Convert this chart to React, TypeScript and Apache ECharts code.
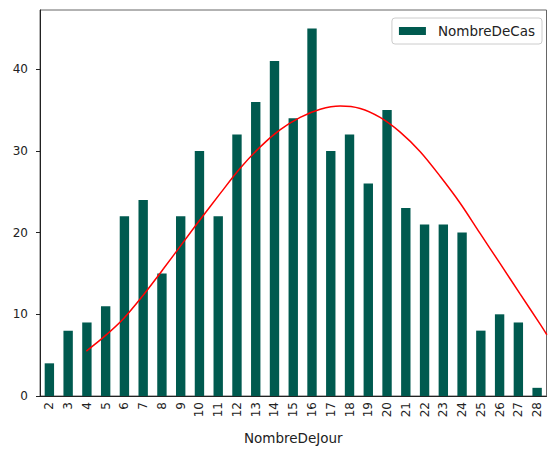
import React, { useEffect, useRef } from "react";
import * as echarts from "echarts";

const days = ["2","3","4","5","6","7","8","9","10","11","12","13","14","15","16","17","18","19","20","21","22","23","24","25","26","27","28"];
const cases = [4, 8, 9, 11, 22, 24, 15, 22, 30, 22, 32, 36, 41, 34, 45, 30, 32, 26, 35, 23, 21, 21, 20, 8, 10, 9, 1];

// fitted curve (x in category-index units)
const fitX = [1.97, 2.89, 3.96, 5.02, 6.09, 7.16, 8.04, 9.11, 10.18, 11.24, 12.31, 13.37, 14.44, 15.5, 16.57, 17.63, 18.7, 19.77, 20.83, 21.9, 22.96, 24.03, 25.09, 26.16, 26.52];
const fitY = [5.5, 7.2, 9.5, 12.4, 15.6, 18.9, 21.6, 24.8, 27.9, 30.5, 32.6, 34.1, 35.1, 35.5, 35.2, 34.1, 32.3, 29.9, 26.9, 23.6, 19.9, 16.2, 12.5, 8.8, 7.5];

const yTicks = [0, 10, 20, 30, 40];

const FONT = "DejaVu Sans";

export default function App() {
  const ref = useRef<HTMLDivElement>(null);
  useEffect(() => {
    if (!ref.current) return;
    const chart = echarts.init(ref.current, null, { renderer: "svg" });
    chart.setOption({
      animation: false,
      grid: {
        left: 40,
        right: 1.5,
        top: 10,
        bottom: 49.5,
        show: true,
        borderColor: "#666",
        borderWidth: 1,
        containLabel: false,
      },
      legend: {
        data: ["NombreDeCas"],
        right: 6,
        top: 18,
        itemWidth: 27,
        itemHeight: 8,
        icon: "rect",
        padding: [6, 7, 6, 7],
        borderColor: "#ccc",
        borderWidth: 1,
        borderRadius: 3,
        backgroundColor: "rgba(255,255,255,0.8)",
        textStyle: { fontSize: 13.5, color: "#222", fontFamily: FONT, padding: [0, 0, 0, 7] },
      },
      xAxis: [
        {
          type: "category",
          data: days,
          boundaryGap: true,
          axisLine: { onZero: false, lineStyle: { color: "#222" } },
          axisTick: { alignWithLabel: true, length: 4, lineStyle: { color: "#222" } },
          axisLabel: { rotate: 90, fontSize: 12, color: "#222", fontFamily: FONT, margin: 6, interval: 0 },
          name: "NombreDeJour",
          nameLocation: "middle",
          nameGap: 35,
          nameTextStyle: { fontSize: 13.5, color: "#222", fontFamily: FONT },
        },
        { type: "value", min: -0.5, max: 26.5, show: false },
      ],
      yAxis: {
        type: "value",
        min: 0,
        max: 47.25,
        interval: 10,
        splitLine: { show: false },
        axisLine: { show: true, onZero: false, lineStyle: { color: "#222" } },
        axisTick: { show: true, length: 4, customValues: yTicks, lineStyle: { color: "#222" } },
        axisLabel: { customValues: yTicks, margin: 12, fontSize: 12, color: "#222", fontFamily: FONT },
      },
      series: [
        {
          type: "bar",
          name: "NombreDeCas",
          data: cases,
          barWidth: "50%",
          itemStyle: { color: "#005a4f" },
        },
        {
          type: "line",
          name: "fit",
          xAxisIndex: 1,
          data: fitX.map((x, i) => [x, fitY[i]]),
          showSymbol: false,
          smooth: 0.3,
          lineStyle: { color: "#ff0000", width: 1.5 },
          z: 3,
        },
      ],
    });
    return () => chart.dispose();
  }, []);
  return (
    <div
      ref={ref}
      style={{ position: "absolute", left: 0, top: 0, width: 548, height: 450, background: "#fff" }}
    />
  );
}
